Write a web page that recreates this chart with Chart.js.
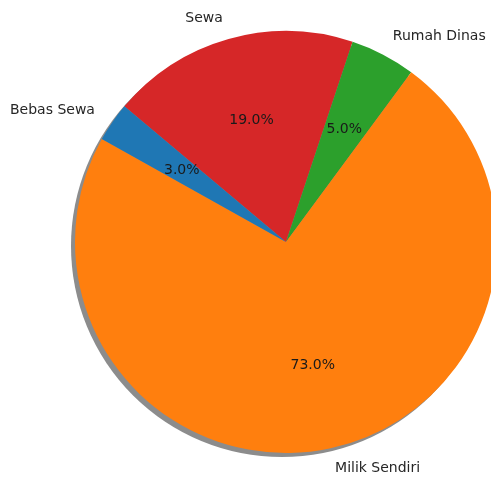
<!DOCTYPE html>
<html>
<head>
<meta charset="utf-8">
<script src="https://cdn.jsdelivr.net/npm/chart.js@4/dist/chart.umd.min.js"></script>
<style>
  html, body { margin: 0; padding: 0; background: #fff; overflow: hidden; width: 491px; height: 477px; }
  #wrap { width: 520px; height: 477px; }
</style>
</head>
<body>
<div id="wrap"><canvas id="chart" width="520" height="477"></canvas></div>
<script>
// slices listed clockwise, starting from the top-left edge of "Sewa"
const categories = ["Sewa", "Rumah Dinas", "Milik Sendiri", "Bebas Sewa"];
const shares = [19, 5, 73, 3];
const sliceColors = ["#d62728", "#2ca02c", "#ff7f0e", "#1f77b4"];

const pieText = {
  id: "pieText",
  beforeDatasetsDraw(chart) {
    // matplotlib style drop shadow under the pie
    const arc = chart.getDatasetMeta(0).data[0];
    const ctx = chart.ctx;
    ctx.save();
    ctx.fillStyle = "#8c8c8c";
    ctx.beginPath();
    ctx.arc(arc.x - 4, arc.y + 4, arc.outerRadius, 0, Math.PI * 2);
    ctx.fill();
    ctx.restore();
  },
  afterDatasetsDraw(chart) {
    const ctx = chart.ctx;
    const meta = chart.getDatasetMeta(0);
    const total = shares.reduce((a, b) => a + b, 0);
    ctx.save();
    ctx.font = "14px 'DejaVu Sans'";
    ctx.textBaseline = "middle";
    meta.data.forEach((arc, i) => {
      const mid = (arc.startAngle + arc.endAngle) / 2;
      const r = arc.outerRadius;
      const c = Math.cos(mid), s = Math.sin(mid);
      ctx.fillStyle = "#262626";
      ctx.textAlign = c > 0 ? "left" : "right";
      ctx.fillText(categories[i], arc.x + c * r * 1.1, arc.y + s * r * 1.1);
      ctx.fillStyle = "#1a1a1a";
      ctx.textAlign = "center";
      ctx.fillText((shares[i] / total * 100).toFixed(1) + "%", arc.x + c * r * 0.6, arc.y + s * r * 0.6);
    });
    ctx.restore();
  }
};

new Chart(document.getElementById("chart"), {
  type: "pie",
  data: {
    labels: categories,
    datasets: [{
      data: shares,
      backgroundColor: sliceColors,
      borderWidth: 0,
    }],
  },
  options: {
    responsive: false,
    animation: false,
    rotation: -50,
    layout: { padding: { left: 75, right: 23, top: 31, bottom: 24 } },
    plugins: {
      legend: { display: false },
      tooltip: { enabled: false },
    },
  },
  plugins: [pieText],
});
</script>
</body>
</html>
